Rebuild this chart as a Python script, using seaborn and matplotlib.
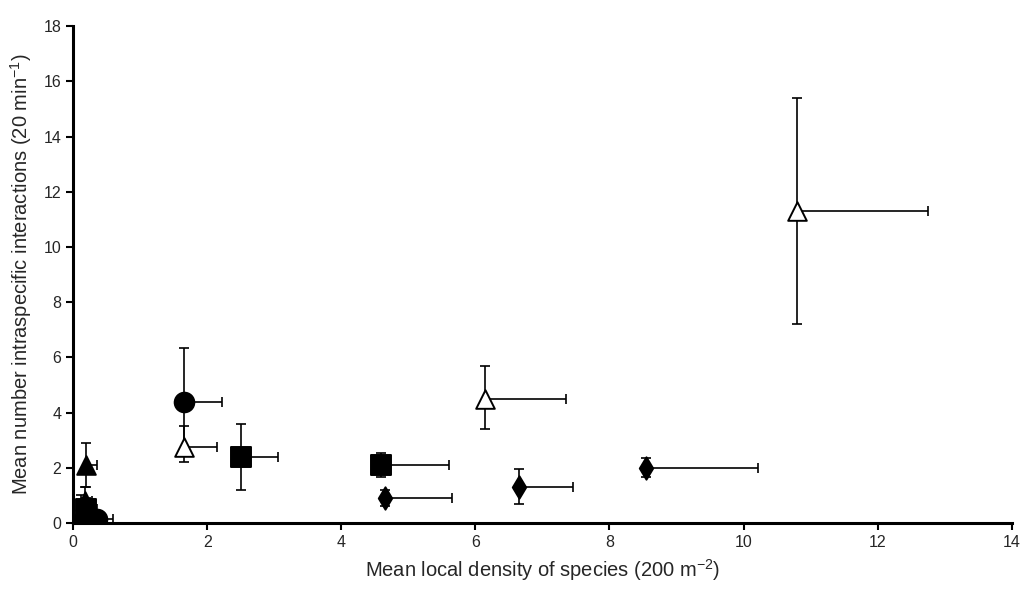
import matplotlib
matplotlib.use("Agg")
import matplotlib.pyplot as plt
import seaborn as sns
import pandas as pd

# Species means with asymmetric error extents
x_mean = [10.8, 6.15, 1.65, 1.65, 2.5, 4.6, 4.65, 6.65, 8.55, 0.2, 0.18, 0.12, 0.2, 0.35, 0.33]
y_mean = [11.3, 4.5, 2.75, 4.4, 2.4, 2.1, 0.9, 1.3, 2.0, 2.1, 0.8, 0.35, 0.5, 0.15, 0.1]
x_err_hi = [1.95, 1.2, 0.5, 0.57, 0.55, 1.0, 1.0, 0.8, 1.67, 0.15, 0.1, 0.1, 0.15, 0.25, 0.1]
y_err_lo = [4.1, 1.1, 0.55, 1.95, 1.2, 0.45, 0.3, 0.6, 0.35, 0.8, 0.5, 0.35, 0.4, 0.15, 0.1]
y_err_hi = [4.1, 1.2, 0.75, 1.95, 1.2, 0.45, 0.3, 0.65, 0.35, 0.8, 0.5, 0.65, 0.4, 0.15, 0.1]
group = ["open tri", "open tri", "open tri", "circle", "square", "square",
         "diamond", "diamond", "diamond", "filled tri", "filled tri", "filled tri",
         "square", "circle", "diamond"]

df = pd.DataFrame({"x": x_mean, "y": y_mean, "xe": x_err_hi,
                   "ylo": y_err_lo, "yhi": y_err_hi, "g": group})

sns.set_theme(style="ticks")
plt.rcParams["font.family"] = ["Liberation Sans", "DejaVu Sans"]
plt.rcParams["mathtext.default"] = "regular"

fig, ax = plt.subplots(figsize=(10.23, 5.96), dpi=100)
fig.subplots_adjust(left=0.0714, right=0.989, top=0.956, bottom=0.1225)

# error bars: x to the right only, y both ways
ax.errorbar(df["x"], df["y"], xerr=[[0] * len(df), df["xe"]],
            yerr=[df["ylo"], df["yhi"]], fmt="none", ecolor="black",
            elinewidth=1.2, capsize=3.6, capthick=1.2, zorder=2)

markers = {"open tri": "^", "circle": "o", "square": "s", "diamond": "d", "filled tri": "^"}
sizes = {"open tri": 180, "circle": 200, "square": 190, "diamond": 130, "filled tri": 180}
for g, sub in df.groupby("g"):
    face = "white" if g == "open tri" else "black"
    sns.scatterplot(data=sub, x="x", y="y", marker=markers[g], s=sizes[g],
                    color=face, edgecolor="black", linewidth=1.4,
                    ax=ax, zorder=3, legend=False)

ax.set_xlim(0, 14)
ax.set_ylim(0, 18)
ax.set_xticks(range(0, 15, 2))
ax.set_yticks(range(0, 19, 2))
ax.set_xlabel("Mean local density of species (200 m$^{-2}$)", fontsize=14.5, labelpad=5)
ax.set_ylabel("Mean number intraspecific interactions (20 min$^{-1}$)", fontsize=14.5, labelpad=7)
ax.tick_params(axis="both", labelsize=11.5, length=5, width=1.5, color="black", direction="out")
for side in ("top", "right"):
    ax.spines[side].set_visible(False)
for side in ("left", "bottom"):
    ax.spines[side].set_linewidth(2.2)
    ax.spines[side].set_color("black")

fig.savefig("out.png", dpi=100)
